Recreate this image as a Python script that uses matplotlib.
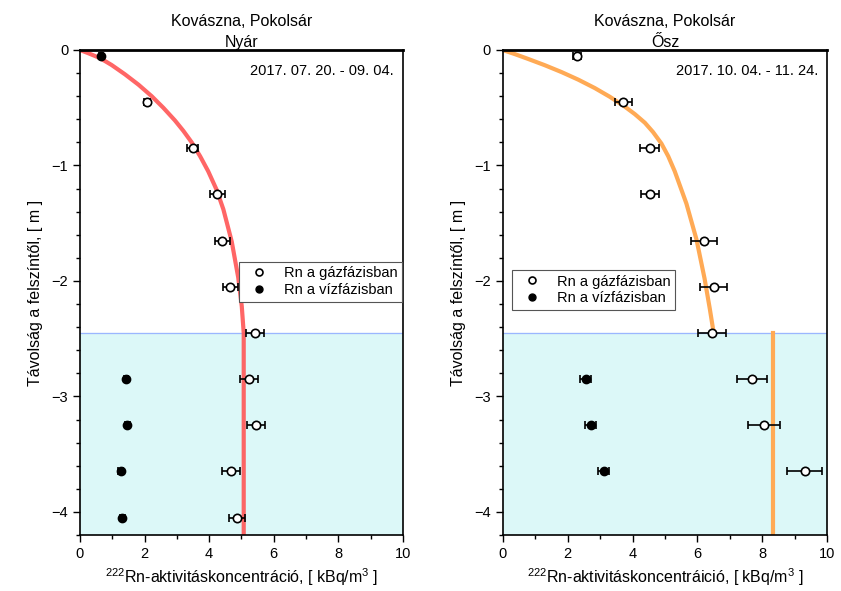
import matplotlib
matplotlib.use('Agg')
import matplotlib.pyplot as plt
from matplotlib.ticker import MultipleLocator

plt.rcParams['font.family'] = ['Liberation Sans', 'DejaVu Sans']
plt.rcParams['mathtext.fontset'] = 'custom'
plt.rcParams['mathtext.rm'] = 'Liberation Sans'

# depths of the measuring points (m, below surface)
depth_gas_summer = [-0.45, -0.85, -1.25, -1.65, -2.05, -2.45, -2.85, -3.25, -3.65, -4.05]
conc_gas_summer = [2.08, 3.49, 4.25, 4.41, 4.66, 5.42, 5.24, 5.44, 4.68, 4.85]
err_gas_summer = [0.10, 0.18, 0.23, 0.23, 0.23, 0.28, 0.28, 0.28, 0.27, 0.25]

depth_water_summer = [-0.05, -2.85, -3.25, -3.65, -4.05]
conc_water_summer = [0.65, 1.42, 1.47, 1.26, 1.31]
err_water_summer = [0.07, 0.07, 0.07, 0.07, 0.07]

depth_gas_autumn = [-0.05, -0.45, -0.85, -1.25, -1.65, -2.05, -2.45, -2.85, -3.25, -3.65]
conc_gas_autumn = [2.28, 3.71, 4.53, 4.55, 6.19, 6.50, 6.46, 7.69, 8.05, 9.30]
err_gas_autumn = [0.12, 0.26, 0.29, 0.28, 0.40, 0.42, 0.43, 0.46, 0.48, 0.54]

depth_water_autumn = [-2.85, -3.25, -3.65]
conc_water_autumn = [2.56, 2.71, 3.12]
err_water_autumn = [0.17, 0.17, 0.17]

# model curves
curve_summer_x = [0.0, 0.26, 0.62, 0.98, 1.39, 1.81, 2.22, 2.58, 2.94, 3.20, 3.46, 3.72, 3.97,
                  4.23, 4.44, 4.70, 4.90, 5.01, 5.07, 5.07]
curve_summer_y = [0.0, -0.028, -0.07, -0.13, -0.21, -0.30, -0.40, -0.50, -0.61, -0.70, -0.80, -0.92, -1.05,
                  -1.21, -1.38, -1.66, -1.97, -2.22, -2.45, -4.2]

curve_autumn_x = [0.0, 0.38, 0.79, 1.30, 1.82, 2.33, 2.84, 3.30, 3.76, 4.07, 4.38, 4.63, 4.89,
                  5.10, 5.30, 5.66, 5.97, 6.22, 6.38, 6.50]
curve_autumn_y = [0.0, -0.036, -0.078, -0.132, -0.192, -0.257, -0.33, -0.405, -0.49, -0.555, -0.63, -0.71, -0.81,
                  -0.92, -1.05, -1.33, -1.64, -1.98, -2.24, -2.45]
water_line_autumn = 8.33

water_level = -2.45
dates = ['2017. 07. 20. - 09. 04.', '2017. 10. 04. - 11. 24.']
seasons = ['Nyár', 'Ősz']

fig = plt.figure(figsize=(8.41, 5.91), dpi=100)
ax1 = fig.add_axes([0.0951, 0.0948, 0.384, 0.8206])
ax2 = fig.add_axes([0.5977, 0.0948, 0.386, 0.8206])


def setup_axes(ax, season, date, xlabel):
    ax.set_xlim(0, 10)
    ax.set_ylim(-4.2, 0)
    ax.axhspan(-4.2, water_level, color='#dcf8f8', zorder=0)
    ax.axhline(water_level, color='#9bb6ff', lw=0.9, zorder=1)
    ax.xaxis.set_major_locator(MultipleLocator(2))
    ax.xaxis.set_minor_locator(MultipleLocator(1))
    ax.yaxis.set_major_locator(MultipleLocator(1))
    ax.yaxis.set_minor_locator(MultipleLocator(0.2))
    ax.tick_params(which='both', direction='out', labelsize=10.5, width=1)
    ax.tick_params(which='major', length=5)
    ax.tick_params(which='minor', length=3)
    for s in ax.spines.values():
        s.set_linewidth(1.2)
    ax.spines['top'].set_linewidth(2)
    ax.set_title('Kovászna, Pokolsár\n' + season, fontsize=11.5, pad=1, linespacing=1.5)
    ax.set_xlabel(xlabel, fontsize=11.5, labelpad=4)
    ax.set_ylabel('Távolság a felszíntől, [ m ]', fontsize=11.5, labelpad=6)
    ax.text(0.972, 0.957, date, transform=ax.transAxes, ha='right', va='center', fontsize=10.5)


setup_axes(ax1, seasons[0], dates[0], '$^{222}$Rn-aktivitáskoncentráció, [ kBq/m$^3$ ]')
setup_axes(ax2, seasons[1], dates[1], '$^{222}$Rn-aktivitáskoncentráició, [ kBq/m$^3$ ]')

# summer
ax1.plot(curve_summer_x, curve_summer_y, color='#ff5555', lw=3, alpha=0.9, zorder=2,
         solid_joinstyle='round')
ax1.errorbar(conc_gas_summer, depth_gas_summer, xerr=err_gas_summer, fmt='o', mfc='white', mec='black',
             ms=6, mew=1.2, ecolor='black', elinewidth=1.2, capsize=3, capthick=1.2, zorder=3)
ax1.errorbar(conc_water_summer, depth_water_summer, xerr=err_water_summer, fmt='o', mfc='black', mec='black',
             ms=6, ecolor='black', elinewidth=1.2, capsize=3, capthick=1.2, zorder=3)

# autumn
ax2.plot(curve_autumn_x, curve_autumn_y, color='#ffaa55', lw=3, zorder=2, solid_joinstyle='round')
ax2.plot([water_line_autumn, water_line_autumn], [water_level, -4.2], color='#ffaa55', lw=3, zorder=2)
ax2.errorbar(conc_gas_autumn, depth_gas_autumn, xerr=err_gas_autumn, fmt='o', mfc='white', mec='black',
             ms=6, mew=1.2, ecolor='black', elinewidth=1.2, capsize=3, capthick=1.2, zorder=3)
ax2.errorbar(conc_water_autumn, depth_water_autumn, xerr=err_water_autumn, fmt='o', mfc='black', mec='black',
             ms=6, ecolor='black', elinewidth=1.2, capsize=3, capthick=1.2, zorder=3)

# legends
for ax, anchor, loc in [(ax1, (0.997, 0.563), 'upper right'), (ax2, (0.029, 0.546), 'upper left')]:
    h1, = ax.plot([], [], 'o', mfc='white', mec='black', ms=5, mew=1.2)
    h2, = ax.plot([], [], 'o', mfc='black', mec='black', ms=5)
    leg = ax.legend([h1, h2], ['Rn a gázfázisban', 'Rn a vízfázisban'], loc=loc, bbox_to_anchor=anchor,
                    borderaxespad=0, fancybox=False, edgecolor='#555555', framealpha=1, fontsize=10.5,
                    handlelength=2.2, handletextpad=0.6, borderpad=0.3, labelspacing=0.2)
    leg.get_frame().set_linewidth(0.8)

fig.savefig('out.png', dpi=100)
